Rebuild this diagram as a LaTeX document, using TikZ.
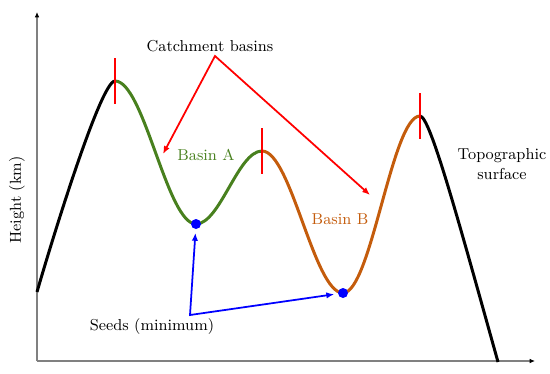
\documentclass[tikz,border=0pt]{standalone}
\usetikzlibrary{arrows.meta}
\definecolor{basinA}{RGB}{72,128,30}
\definecolor{basinB}{RGB}{196,92,12}
\begin{document}
\begin{tikzpicture}[x=0.02cm, y=0.02cm,
    surf/.style={line width=1.7pt},
    divide/.style={red, line width=1.2pt},
    pointer/.style={line width=1pt, {Latex[length=4.5pt, width=3.6pt]}-{Latex[length=4.5pt, width=3.6pt]}},
    seed/.style={circle, fill=blue, inner sep=0pt, minimum size=0.2cm},
    lbl/.style={font=\small}
  ]
    \useasboundingbox (0,0) rectangle (550,373);
    \coordinate (o) at (37,12);
    \coordinate (ytop) at (37,361);
    \coordinate (xend) at (535,12);
    \draw[gray, line width=0.6pt, -{Latex[length=3pt, width=2.6pt, black]}] (o) -- (ytop);
    \draw[gray, line width=0.6pt, -{Latex[length=3pt, width=2.6pt, black]}] (o) -- (xend);
    \coordinate (s0) at (37,81);
    \coordinate (p1) at (115,292);
    \coordinate (m1) at (196,149);
    \coordinate (p2) at (262,222);
    \coordinate (m2) at (343,80);
    \coordinate (p3) at (420,257);
    \coordinate (e) at (498,11);
    \draw[surf] (s0) .. controls (47,116) and (100,292) .. (p1);
    \draw[surf, basinA] (p1) .. controls +(29,0) and +(-29,0) .. (m1) .. controls +(24,0) and +(-24,0) .. (p2);
    \draw[surf, basinB] (p2) .. controls +(29,0) and +(-29,0) .. (m2) .. controls +(28,0) and +(-28,0) .. (p3);
    \draw[surf] (p3) .. controls (430,257) and (458,154) .. (e);
    \foreach \p in {p1,p2,p3}
      \draw[divide] (\p) ++(0,23) -- ++(0,-46);
    \node[seed] (seedA) at (m1) {};
    \node[seed] (seedB) at (m2) {};
    \node[lbl] (catch) at (210,327) {Catchment basins};
    \coordinate (rfork) at (215,317);
    \coordinate (tipA) at (163,219);
    \coordinate (tipB) at (370,178);
    \draw[pointer, red] (tipA) -- (rfork) -- (tipB);
    \node[lbl] (seeds) at (152,46) {Seeds (minimum)};
    \coordinate (bfork) at (190,58);
    \draw[pointer, blue, shorten <=2pt, shorten >=2pt] (seedA) -- (bfork) -- (seedB);
    \node[lbl, text=basinA] (labA) at (206,218) {Basin A};
    \node[lbl, text=basinB] (labB) at (340,154) {Basin B};
    \node[lbl, align=center] (topo) at (502,209) {Topographic\\surface};
    \node[lbl, rotate=90] (height) at (17,173) {Height (km)};
\end{tikzpicture}
\end{document}
